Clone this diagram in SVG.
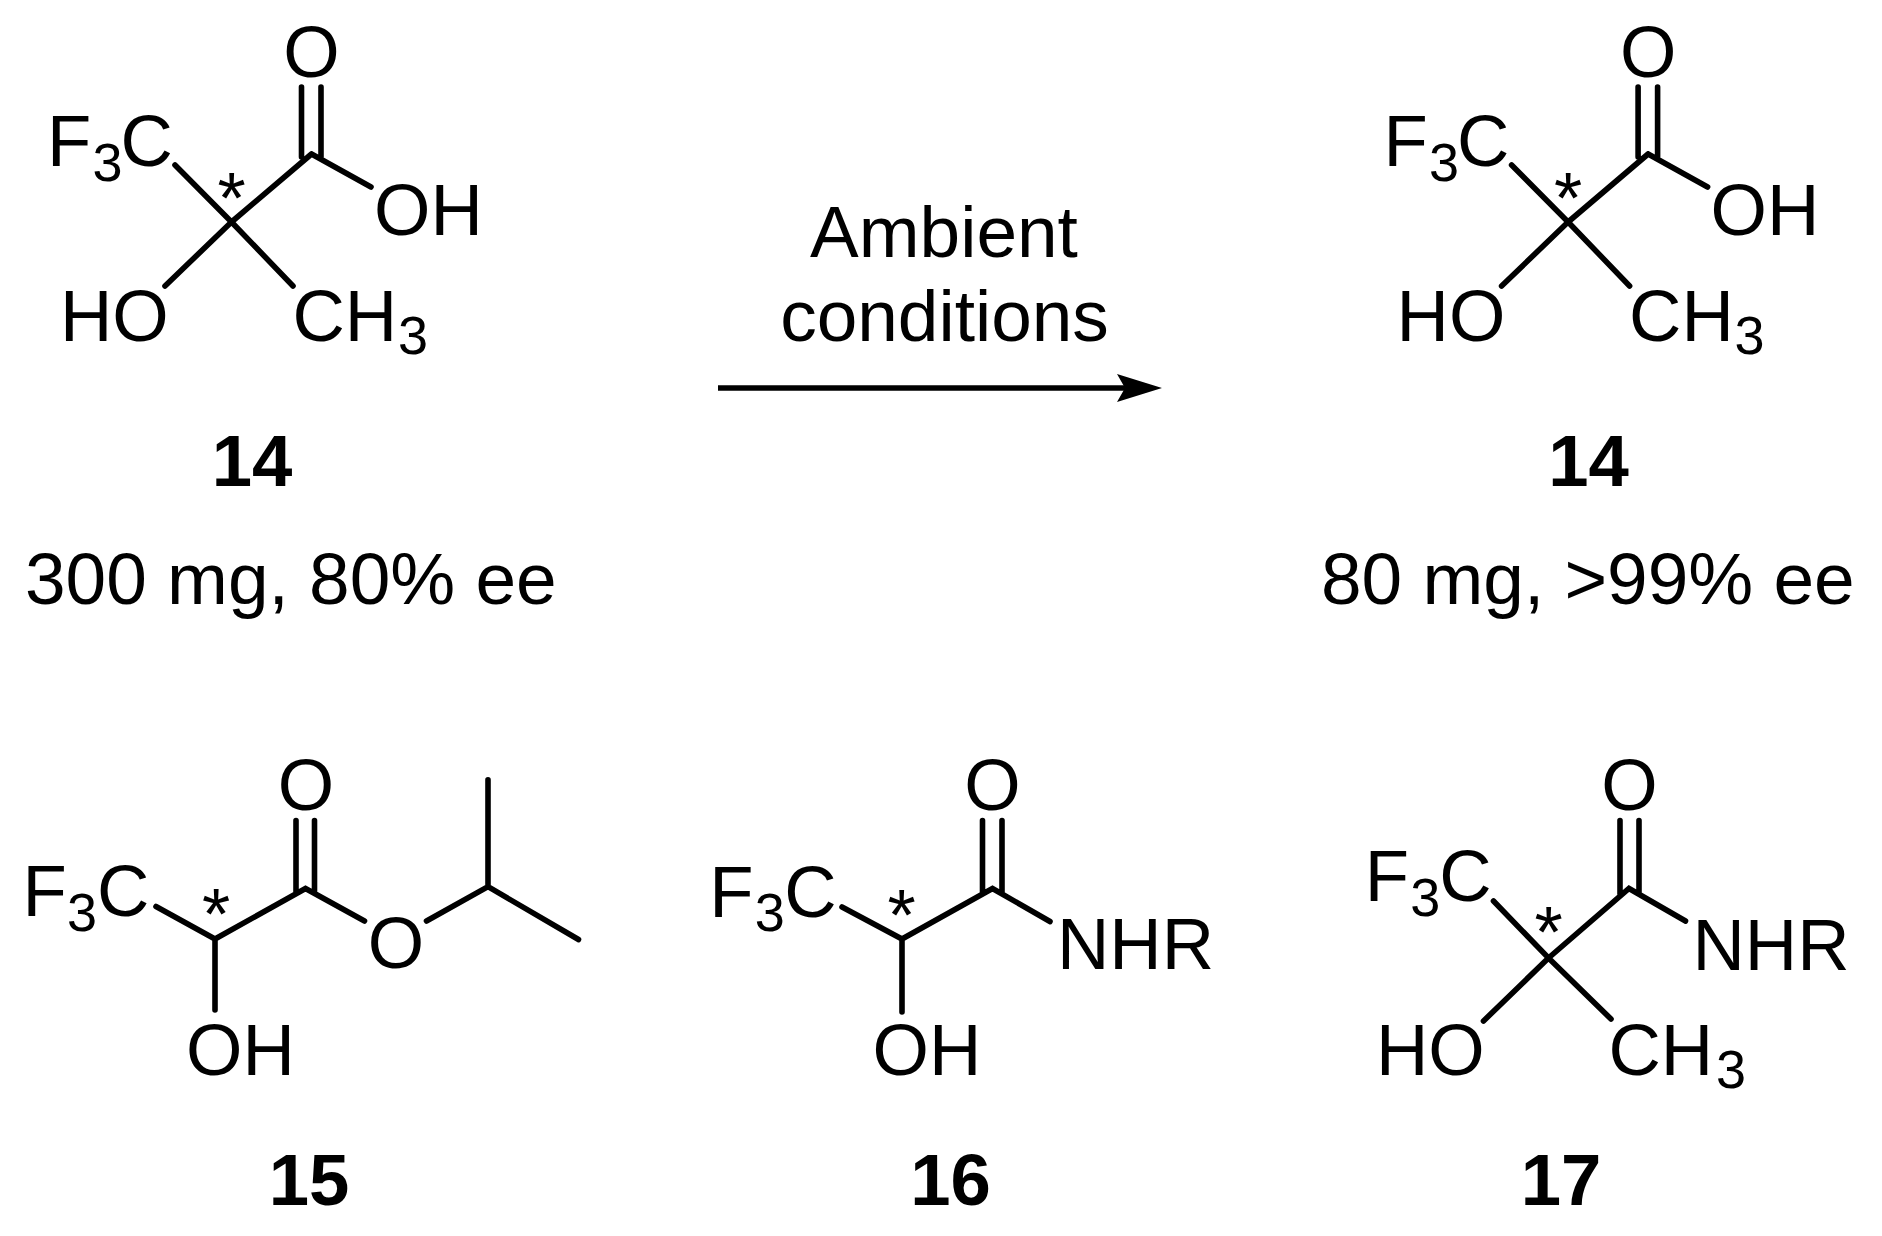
<svg xmlns="http://www.w3.org/2000/svg" width="1882" height="1236" viewBox="0 0 1882 1236">
<style>
text{font-family:"Liberation Sans",Arial,sans-serif;font-size:72.500px;fill:#000}
.s{font-size:54px}
.b{font-weight:bold;text-anchor:middle}
.m{text-anchor:middle}
.w{font-size:73px}
.bond{stroke:#000;stroke-width:5.600;stroke-linecap:round;fill:none}
</style>
<defs>
<marker id="head" markerUnits="userSpaceOnUse" markerWidth="46" markerHeight="30" refX="8" refY="15" orient="auto">
<path d="M0 1L45 15L0 29L8 15Z" fill="#000"/>
</marker>
</defs>
<rect width="1882" height="1236" fill="#fff"/>
<g id="connectors">
<path id="bonds-14a" class="bond" d="M175 165L231.500 222M231.500 222L311.500 154M311.500 154L371 187M231.500 222L165 286M231.500 222L293 286M301.500 87V157M321 87V157"/>
<path id="bonds-14b" class="bond" transform="translate(1336.600 0)" d="M175 165L231.500 222M231.500 222L311.500 154M311.500 154L371 187M231.500 222L165 286M231.500 222L293 286M301.500 87V157M321 87V157"/>
<path id="bonds-15" class="bond" d="M156 906.500L215 939L305.500 888.500L364.500 921M215 939V1010M296 820.600V892M314.500 820.600V892M426.500 921L488 886.700V779.700M488 886.700L578.500 939.500"/>
<path id="bonds-16" class="bond" d="M842 907L902 939L992.500 888.500L1050 921.500M902 939V1012M982.500 820.600V892.400M1002 820.600V892.400"/>
<path id="bonds-17" class="bond" d="M1493.500 901L1548.500 958L1629 888.500L1685.500 921M1548.500 958L1483.500 1021M1548.500 958L1611 1019M1620 820.600V894M1639 820.600V894"/>
<line id="arrow" x1="718" y1="388" x2="1125" y2="388" stroke="#000" stroke-width="5.600" marker-end="url(#head)"/>
</g>
<g id="compound-14-start">
<text x="47" y="166">F<tspan class="s" x="92.500" y="181">3</tspan><tspan x="120.500" y="166">C</tspan></text>
<text class="m" x="311.500" y="76.500">O</text>
<text x="374" y="235">OH</text>
<text x="60" y="340.600">HO</text>
<text x="292.500" y="340.600">CH<tspan class="s" x="398" y="354">3</tspan></text>
<text class="m" x="231.500" y="223">*</text>
<text class="b" x="252" y="486">14</text>
<text class="w" x="25" y="604">300 mg, 80% ee</text>
</g>
<g id="conditions">
<text class="m w" x="944" y="257">Ambient</text>
<text class="m w" x="944.500" y="341">conditions</text>
</g>
<g id="compound-14-product">
<g transform="translate(1336.600 0)">
<text x="47" y="166">F<tspan class="s" x="92.500" y="181">3</tspan><tspan x="120.500" y="166">C</tspan></text>
<text class="m" x="311.500" y="76.500">O</text>
<text x="374" y="235">OH</text>
<text x="60" y="340.600">HO</text>
<text x="292.500" y="340.600">CH<tspan class="s" x="398" y="354">3</tspan></text>
<text class="m" x="231.500" y="223">*</text>
<text class="b" x="252" y="486">14</text>
</g>
<text class="w" x="1321" y="604">80 mg, &gt;99% ee</text>
</g>
<g id="compound-15">
<text x="22.500" y="916">F<tspan class="s" x="67" y="930.500">3</tspan><tspan x="97" y="916">C</tspan></text>
<text class="m" x="306" y="810">O</text>
<text class="m" x="396" y="968">O</text>
<text x="186" y="1075">OH</text>
<text class="m" x="216" y="939">*</text>
<text class="b" x="309" y="1205">15</text>
</g>
<g id="compound-16">
<text x="709.300" y="917">F<tspan class="s" x="754.700" y="931.400">3</tspan><tspan x="784.200" y="917">C</tspan></text>
<text class="m" x="992.500" y="810">O</text>
<text x="1057" y="969">NHR</text>
<text x="872.500" y="1075">OH</text>
<text class="m" x="901.500" y="940">*</text>
<text class="b" x="950.500" y="1205">16</text>
</g>
<g id="compound-17">
<text x="1364.800" y="901">F<tspan class="s" x="1410.300" y="916">3</tspan><tspan x="1439.300" y="901">C</tspan></text>
<text class="m" x="1629.500" y="810">O</text>
<text x="1692.500" y="970">NHR</text>
<text x="1376" y="1075">HO</text>
<text x="1608.500" y="1075">CH<tspan class="s" x="1716" y="1088">3</tspan></text>
<text class="m" x="1548.500" y="957">*</text>
<text class="b" x="1561" y="1205">17</text>
</g>
</svg>
